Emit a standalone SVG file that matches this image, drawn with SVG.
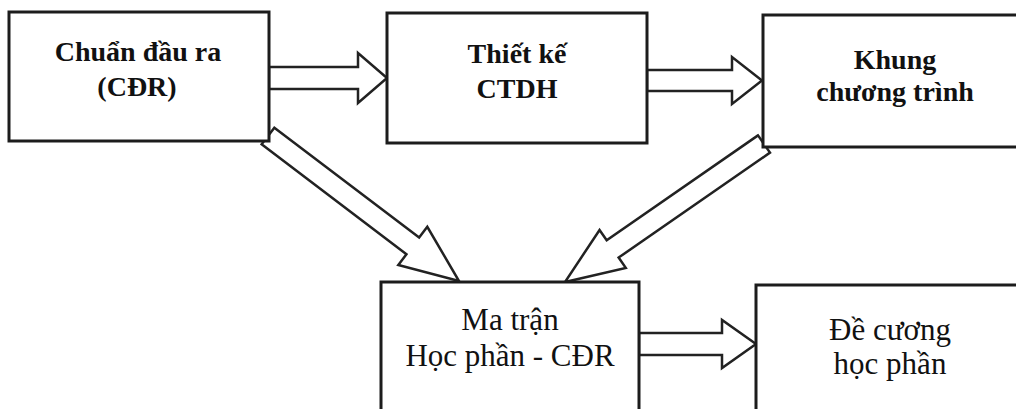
<svg xmlns="http://www.w3.org/2000/svg" width="1016" height="409" viewBox="0 0 1016 409">
<style>
.box{fill:#fff;stroke:#1c1c1c;stroke-width:3}
.arr{fill:#fff;stroke:#222;stroke-width:2.5;stroke-linejoin:miter}
.t{font-family:"Liberation Serif","DejaVu Serif",serif;fill:#111;text-anchor:middle}
.tb{font-size:28px;font-weight:bold}
.tr{font-size:31px}
</style>
<rect width="1016" height="409" fill="#fff"/>
<g id="connectors">
<polygon class="arr" points="269,67 358,67 358,53 387,78 358,103 358,89 269,89"/>
<polygon class="arr" points="647,70 732,70 732,57 762,80.5 732,104 732,91 647,91"/>
<polygon class="arr" points="639,333 722,333 722,320 756,344 722,368 722,355 639,355"/>
<polygon class="arr" points="274.35,127.64 419.15,237.54 427.3,226.8 459,281 398.3,265 406.45,254.26 261.65,144.36"/>
<polygon class="arr" points="758.02,135.37 606.68,240.32 599.55,230.05 565,282 625.77,267.85 618.64,257.58 769.98,152.63"/>
</g>
<g id="node-cdr">
<rect class="box" x="9" y="12" width="260" height="129"/>
<text class="t tb" x="138" y="61">Chuẩn đầu ra</text>
<text class="t tb" x="137" y="96">(CĐR)</text>
</g>
<g id="node-thietke">
<rect class="box" x="387" y="13" width="260" height="130"/>
<text class="t tb" x="517" y="63">Thiết kế</text>
<text class="t tb" x="517" y="98">CTDH</text>
</g>
<g id="node-khung">
<rect class="box" x="763" y="15" width="270" height="132"/>
<text class="t tb" x="895" y="69">Khung</text>
<text class="t tb" x="895" y="101">chương trình</text>
</g>
<g id="node-matran">
<rect class="box" x="381" y="282" width="258" height="140"/>
<text class="t tr" x="510" y="330">Ma trận</text>
<text class="t tr" x="510" y="366">Học phần - CĐR</text>
</g>
<g id="node-decuong">
<rect class="box" x="756" y="285" width="280" height="140"/>
<text class="t tr" x="890" y="340">Đề cương</text>
<text class="t tr" x="890" y="374">học phần</text>
</g>
</svg>
